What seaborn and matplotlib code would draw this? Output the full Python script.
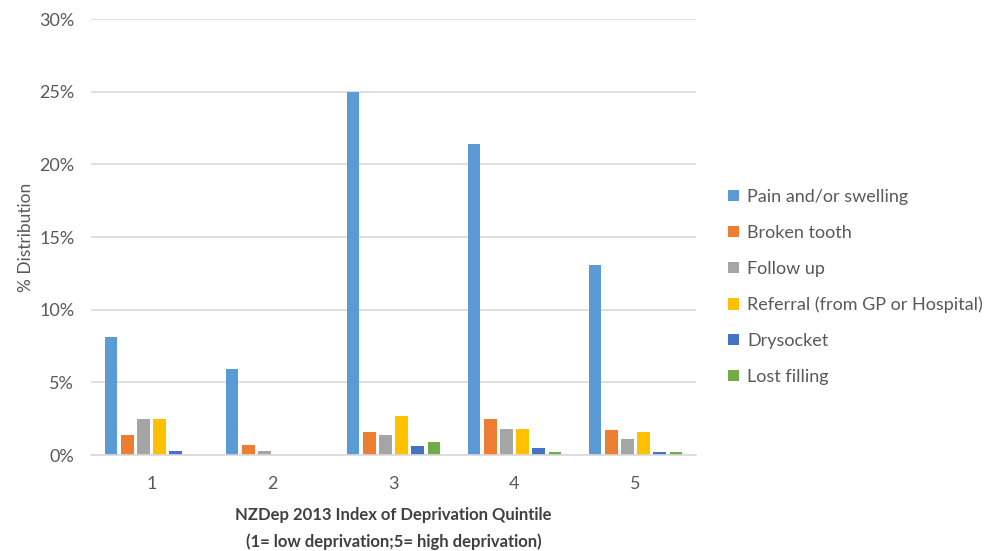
import matplotlib
matplotlib.use("Agg")
import matplotlib.pyplot as plt
import seaborn as sns
import pandas as pd
from matplotlib.ticker import FuncFormatter

# Quintiles of the NZDep 2013 index
quintiles = ["1", "2", "3", "4", "5"]

# Reasons for attendance (% distribution)
reasons = [
    "Pain and/or swelling",
    "Broken tooth",
    "Follow up",
    "Referral (from GP or Hospital)",
    "Drysocket",
    "Lost filling",
]

pain = [8.1, 5.9, 25.0, 21.4, 13.1]
broken = [1.4, 0.7, 1.6, 2.5, 1.75]
follow_up = [2.5, 0.25, 1.35, 1.8, 1.1]
referral = [2.5, 0.0, 2.7, 1.8, 1.6]
drysocket = [0.25, 0.0, 0.65, 0.45, 0.23]
lost_filling = [0.0, 0.0, 0.9, 0.23, 0.23]

series = [pain, broken, follow_up, referral, drysocket, lost_filling]
colors = ["#5B9BD5", "#ED7D31", "#A5A5A5", "#FFC000", "#4472C4", "#70AD47"]

rows = []
for reason, vals in zip(reasons, series):
    for q, v in zip(quintiles, vals):
        rows.append({"Quintile": q, "Reason": reason, "Percent": v})
df = pd.DataFrame(rows)

sns.set_theme(style="white")
plt.rcParams["font.family"] = ["Lato", "DejaVu Sans"]

text_color = "#595959"
grid_color = "#D9D9D9"

fig = plt.figure(figsize=(9.87, 5.51), dpi=100)
ax = fig.add_axes([91 / 987, 1 - 455 / 551, 605 / 987, (455 - 19) / 551])

sns.barplot(
    data=df, x="Quintile", y="Percent", hue="Reason",
    order=quintiles, hue_order=reasons, palette=colors, saturation=1,
    width=0.8, gap=0.22, linewidth=0, ax=ax, legend=True,
)

ax.set_ylim(0, 30)
ax.set_yticks(range(0, 31, 5))
ax.yaxis.set_major_formatter(FuncFormatter(lambda v, p: f"{int(v)}%"))
ax.grid(axis="y", color=grid_color, linewidth=1.2)
ax.set_axisbelow(True)
for side in ["top", "right", "left"]:
    ax.spines[side].set_visible(False)
ax.spines["bottom"].set_color(grid_color)
ax.spines["bottom"].set_linewidth(1.2)

ax.tick_params(axis="y", length=0, pad=12, labelsize=13, labelcolor=text_color)
ax.tick_params(axis="x", length=0, pad=15, labelsize=13, labelcolor=text_color)

ax.set_ylabel("% Distribution", fontsize=12.5, color=text_color, labelpad=4)
ax.set_xlabel(
    "NZDep 2013 Index of Deprivation Quintile\n(1= low deprivation;5= high deprivation)",
    fontsize=12, fontweight="bold", color="#404040", labelpad=11, linespacing=1.75,
)

handles, labels = ax.get_legend_handles_labels()
ax.get_legend().remove()
fig.legend(
    handles, labels,
    loc="center left", bbox_to_anchor=(728 / 987, 1 - 287 / 551),
    frameon=False, fontsize=13, labelcolor=text_color,
    handlelength=0.6, handleheight=0.6, handletextpad=0.45,
    labelspacing=1.1, borderpad=0, borderaxespad=0,
)

fig.savefig("out.png", dpi=100)
